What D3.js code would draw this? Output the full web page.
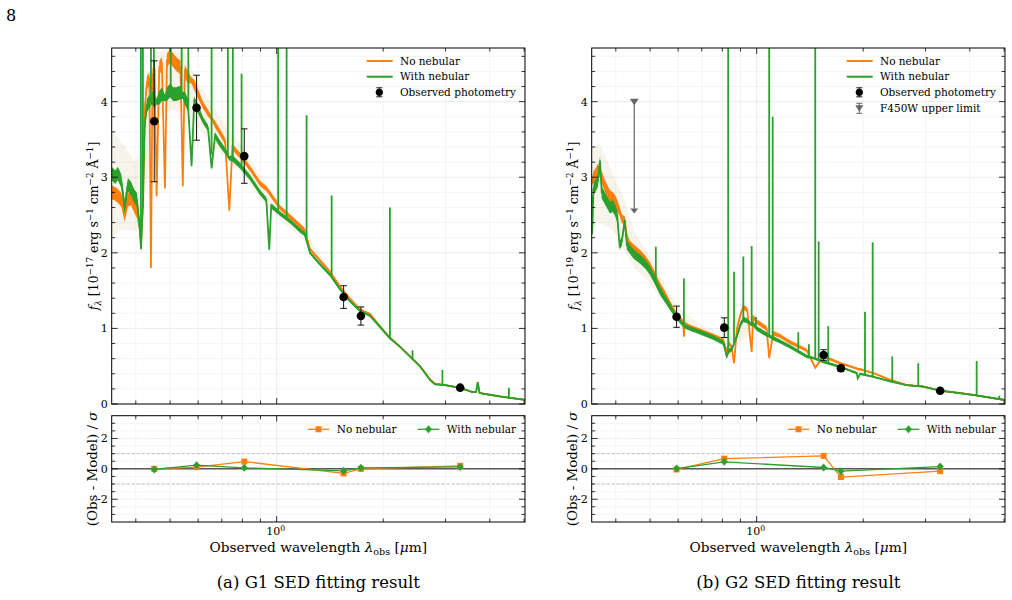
<!DOCTYPE html>
<html>
<head>
<meta charset="utf-8">
<script src="https://cdn.jsdelivr.net/npm/d3@7"></script>
<style>
  body { margin: 0; background: #fff; }
  text { font-family: "DejaVu Serif", serif; fill: #000; }
</style>
</head>
<body>
<svg id="chart" width="1012" height="600"></svg>
<script>
// axis settings
var xDomain = [0.342, 5.03];
var fluxMax = 4.71;
var resDomain = [-3.5, 3.5];
var xMajorTicks = [1];
var xMinorTicks = [0.4, 0.5, 0.6, 0.7, 0.8, 0.9, 2, 3, 4, 5];
var fluxMajorTicks = [0, 1, 2, 3, 4];
var fluxMinorTicks = [0.2, 0.4, 0.6, 0.8, 1.2, 1.4, 1.6, 1.8, 2.2, 2.4, 2.6, 2.8,
  3.2, 3.4, 3.6, 3.8, 4.2, 4.4, 4.6];
var resMajorTicks = [-2, 0, 2];
var resMinorTicks = [-3, -2.5, -1.5, -1, -0.5, 0.5, 1, 1.5, 2.5, 3];

// G1 model spectra (um, 1e-17 units)
var g1Wave = [0.342, 0.350, 0.356, 0.364, 0.372, 0.380, 0.388, 0.396, 0.403, 0.409,
  0.414, 0.419, 0.424, 0.430, 0.437, 0.4415, 0.446, 0.452, 0.458, 0.466,
  0.474, 0.4835, 0.490, 0.500, 0.510, 0.520, 0.535, 0.543, 0.550, 0.562,
  0.575, 0.585, 0.600, 0.620, 0.640, 0.655, 0.670, 0.690, 0.715, 0.735,
  0.750, 0.790, 0.840, 0.897, 0.935, 0.953, 0.965, 1.022, 1.090, 1.163,
  1.200, 1.242, 1.325, 1.414, 1.510, 1.611, 1.719, 1.835, 1.958, 2.089,
  2.23, 2.38, 2.54, 2.71, 2.80, 2.99, 3.295, 3.56, 3.66, 3.70,
  3.74, 3.80, 4.27, 5.03];
var g1NoNeb = [2.80, 2.78, 2.75, 2.70, 2.50, 2.70, 2.72, 2.62, 2.55, 2.40,
  2.15, 2.60, 3.90, 4.25, 4.30, 1.80, 4.35, 4.40, 2.75, 4.45,
  4.50, 2.85, 4.55, 4.60, 4.55, 4.50, 4.45, 2.88, 4.40, 4.32,
  4.28, 4.22, 4.10, 3.95, 3.85, 3.78, 3.70, 3.60, 3.48, 2.56,
  3.40, 3.28, 3.12, 2.92, 2.85, 2.80, 2.76, 2.60, 2.48, 2.36,
  2.30, 2.05, 1.90, 1.75, 1.55, 1.39, 1.25, 1.19, 1.03, 0.88,
  0.76, 0.63, 0.50, 0.33, 0.27, 0.25, 0.215, 0.16, 0.16, 0.29,
  0.15, 0.14, 0.10, 0.055];
var g1Neb = [3.05, 3.00, 3.05, 2.95, 2.60, 2.90, 2.85, 2.75, 2.70, 2.40,
  2.05, 2.70, 3.70, 3.95, 4.00, 4.00, 4.05, 4.00, 4.00, 4.05,
  4.10, 4.05, 4.10, 4.15, 4.10, 4.10, 4.12, 4.08, 4.05, 3.95,
  3.15, 4.00, 3.90, 3.75, 3.65, 3.12, 3.55, 3.45, 3.35, 3.25,
  3.25, 3.15, 3.00, 2.80, 2.70, 2.04, 2.62, 2.52, 2.42, 2.30,
  2.25, 2.00, 1.85, 1.71, 1.52, 1.36, 1.23, 1.17, 1.02, 0.87,
  0.76, 0.63, 0.50, 0.32, 0.26, 0.25, 0.215, 0.16, 0.16, 0.29,
  0.15, 0.14, 0.10, 0.055];
var g1Noise = [0.09, 0.09, 0.09, 0.09, 0.09, 0.09, 0.09, 0.09, 0.09, 0.09,
  0.05, 0.08, 0.09, 0.09, 0.09, 0.04, 0.09, 0.09, 0.04, 0.09,
  0.09, 0.04, 0.09, 0.09, 0.09, 0.09, 0.09, 0.04, 0.09, 0.08,
  0.04, 0.07, 0.06, 0.045, 0.045, 0.03, 0.045, 0.045, 0.04, 0.03,
  0.04, 0.04, 0.035, 0.035, 0.035, 0.03, 0.035, 0.03, 0.03, 0.03,
  0.03, 0.02, 0.02, 0.02, 0.02, 0.015, 0.015, 0.015, 0.015, 0.01,
  0.01, 0.01, 0.01, 0.01, 0.01, 0.01, 0.01, 0.01, 0.01, 0.01,
  0.01, 0.01, 0.01, 0.01];
var g1BandWave = [0.342, 0.36, 0.38, 0.40, 0.42, 0.45, 0.50, 0.55, 0.60, 0.70,
  0.80, 0.90, 1.0, 1.2, 1.5, 2.0, 2.5, 3.0, 4.0, 5.03];
var g1BandLo = [2.2, 2.3, 2.3, 2.3, 2.5, 3.75, 3.9, 3.85, 3.65, 3.3,
  3.05, 2.7, 2.48, 2.15, 1.52, 0.93, 0.48, 0.24, 0.10, 0.05];
var g1BandHi = [3.6, 3.5, 3.35, 3.2, 3.5, 4.65, 4.7, 4.65, 4.25, 3.75,
  3.4, 3.02, 2.72, 2.28, 1.6, 0.97, 0.52, 0.27, 0.12, 0.06];
// nebular emission lines: wavelength, base, top
var g1LineWave = [0.4136, 0.419, 0.4415, 0.450, 0.502, 0.539, 0.563, 0.655, 0.728, 0.752,
  0.796, 1.010, 1.067, 1.215, 1.43, 2.089, 2.42, 2.94, 4.53];
var g1LineBase = [2.2, 2.6, 4.0, 4.0, 4.15, 4.1, 3.95, 3.3, 3.3, 3.25,
  3.15, 2.55, 2.45, 2.2, 1.70, 0.87, 0.58, 0.25, 0.08];
var g1LineTop = [5.2, 5.2, 5.2, 5.2, 5.2, 5.2, 5.2, 5.2, 5.2, 5.2,
  4.37, 5.2, 5.2, 3.82, 2.76, 2.60, 0.71, 0.45, 0.216];

// G1 photometry and residuals
var g1PhotWave = [0.451, 0.594, 0.810, 1.546, 1.730, 3.30];
var g1PhotFlux = [3.74, 3.92, 3.28, 1.415, 1.164, 0.216];
var g1PhotErr = [0.80, 0.43, 0.36, 0.15, 0.12, 0.02];
var g1ResNoNeb = [0.00, 0.11, 0.48, -0.30, 0.00, 0.20];
var g1ResNeb = [-0.04, 0.24, 0.07, -0.13, 0.07, 0.13];

// G2 model spectra (um, 1e-19 units)
var g2Wave = [0.342, 0.343, 0.346, 0.352, 0.356, 0.361, 0.365, 0.373, 0.380, 0.385,
  0.392, 0.397, 0.404, 0.410, 0.416, 0.424, 0.430, 0.438, 0.450, 0.468,
  0.485, 0.499, 0.515, 0.533, 0.550, 0.569, 0.594, 0.620, 0.623, 0.626,
  0.648, 0.692, 0.754, 0.805, 0.823, 0.835, 0.850, 0.863, 0.880, 0.900,
  0.917, 0.940, 0.968, 0.978, 1.000, 1.067, 1.085, 1.114, 1.163, 1.242,
  1.384, 1.464, 1.542, 1.719, 1.917, 1.930, 1.960, 2.136, 2.38, 2.65,
  2.955, 3.295, 3.67, 4.09, 5.03];
var g2NoNeb = [2.95, 2.95, 3.00, 3.05, 3.10, 3.05, 3.00, 2.88, 2.80, 2.75,
  2.72, 2.70, 2.62, 2.55, 2.45, 2.43, 2.20, 2.10, 2.05, 1.98,
  1.90, 1.82, 1.70, 1.55, 1.45, 1.32, 1.18, 1.08, 0.89, 1.06,
  1.02, 0.97, 0.90, 0.84, 0.70, 0.80, 0.75, 0.54, 1.00, 1.18,
  1.28, 1.25, 0.69, 1.15, 1.09, 1.00, 0.61, 0.935, 0.90, 0.82,
  0.71, 0.48, 0.63, 0.54, 0.47, 0.46, 0.46, 0.41, 0.32, 0.25,
  0.23, 0.176, 0.15, 0.12, 0.053];
var g2Neb = [2.75, 2.25, 2.85, 2.90, 2.95, 3.22, 2.80, 2.72, 2.65, 2.60,
  2.62, 2.58, 2.48, 2.10, 2.15, 2.43, 2.10, 2.05, 1.98, 1.92,
  1.85, 1.77, 1.65, 1.50, 1.40, 1.29, 1.15, 1.05, 1.04, 1.03,
  1.00, 0.95, 0.88, 0.81, 0.63, 0.70, 0.72, 0.80, 0.90, 1.05,
  1.12, 1.10, 1.05, 1.06, 1.00, 0.92, 0.90, 0.87, 0.83, 0.76,
  0.63, 0.60, 0.56, 0.49, 0.41, 0.34, 0.40, 0.36, 0.30, 0.25,
  0.23, 0.176, 0.15, 0.12, 0.053];
var g2Noise = [0.08, 0.04, 0.08, 0.08, 0.08, 0.06, 0.08, 0.08, 0.08, 0.08,
  0.08, 0.08, 0.08, 0.06, 0.06, 0.05, 0.06, 0.06, 0.06, 0.06,
  0.06, 0.06, 0.06, 0.055, 0.05, 0.045, 0.03, 0.03, 0.02, 0.03,
  0.03, 0.03, 0.03, 0.03, 0.02, 0.03, 0.03, 0.02, 0.035, 0.035,
  0.035, 0.03, 0.02, 0.03, 0.03, 0.03, 0.02, 0.03, 0.025, 0.025,
  0.02, 0.015, 0.02, 0.015, 0.015, 0.012, 0.015, 0.01, 0.01, 0.01,
  0.01, 0.01, 0.01, 0.01, 0.01];
var g2BandWave = [0.342, 0.36, 0.38, 0.40, 0.42, 0.45, 0.50, 0.55, 0.60, 0.70,
  0.80, 0.90, 1.0, 1.2, 1.5, 2.0, 3.0, 5.03];
var g2BandLo = [2.3, 2.4, 2.35, 2.25, 2.05, 1.8, 1.6, 1.3, 1.07, 0.9,
  0.77, 0.82, 0.96, 0.77, 0.58, 0.38, 0.21, 0.05];
var g2BandHi = [3.4, 3.45, 3.2, 2.95, 2.75, 2.3, 1.95, 1.58, 1.28, 1.04,
  0.91, 1.18, 1.13, 0.91, 0.67, 0.45, 0.24, 0.06];
var g2LineWave = [0.519, 0.623, 0.831, 0.863, 0.917, 0.968, 0.995, 1.085, 1.110, 1.311,
  1.405, 1.464, 1.497, 1.593, 2.023, 2.127, 2.416, 2.861, 4.183, 4.845];
var g2LineBase = [1.66, 1.04, 0.68, 0.78, 1.12, 1.05, 1.0, 0.90, 0.88, 0.72,
  0.64, 0.60, 0.58, 0.55, 0.38, 0.36, 0.30, 0.24, 0.11, 0.06];
var g2LineTop = [2.08, 1.66, 5.2, 1.75, 1.95, 2.09, 1.15, 5.2, 3.8, 0.95,
  0.79, 5.2, 2.15, 1.03, 1.22, 2.14, 0.63, 0.54, 0.57, 0.11];

// G2 photometry, F450W limit and residuals
var g2PhotWave = [0.594, 0.810, 1.546, 1.730, 3.30];
var g2PhotFlux = [1.155, 1.01, 0.648, 0.472, 0.176];
var g2PhotErr = [0.14, 0.13, 0.07, 0.04, 0.015];
var g2LimitWave = 0.451;
var g2LimitFrom = 4.0;
var g2LimitTo = 2.52;
var g2ResNoNeb = [-0.04, 0.67, 0.85, -0.54, -0.15];
var g2ResNeb = [0.02, 0.46, 0.09, -0.15, 0.15];

var orange = "#ff7f0e", green = "#2ca02c";
var panelW = 413.3;
var topTop = 48, topBottom = 404;
var resTop = 415.7, resBottom = 522;

var svg = d3.select("#chart");

svg.append("text").attr("x", 6).attr("y", 21)
   .style("font-size", "16px").text("8");

// writes text with sub/superscripts as tspans
function richText(sel, parts, size) {
    var shift = 0;
    parts.forEach(function(p) {
        var t = sel.append("tspan").text(p[0]);
        var target = 0;
        if (p[1] == "sup") target = -0.4 * size;
        if (p[1] == "sub") target = 0.25 * size;
        t.attr("dy", target - shift);
        shift = target;
        if (p[1] == "sup" || p[1] == "sub") t.style("font-size", (size * 0.7) + "px");
        if (p[2]) t.style("font-style", "italic");
    });
}

function drawPanel(p) {
    var x = d3.scaleLog().domain(xDomain).range([p.left, p.left + panelW]);
    var y = d3.scaleLinear().domain([0, fluxMax]).range([topBottom, topTop]);
    var yr = d3.scaleLinear().domain(resDomain).range([resBottom, resTop]);
    var x0 = p.left, x1 = p.left + panelW;

    svg.append("defs").append("clipPath").attr("id", "clip" + p.id)
       .append("rect").attr("x", x0).attr("y", topTop)
       .attr("width", panelW).attr("height", topBottom - topTop);

    // layers: grid below, spectra, then marks and axes on top
    var gg = svg.append("g");
    var cg = svg.append("g").attr("clip-path", "url(#clip" + p.id + ")");
    var g = svg.append("g");

    // grid
    [[topTop, topBottom], [resTop, resBottom]].forEach(function(r) {
        gg.selectAll(null).data(xMinorTicks.concat(xMajorTicks)).enter().append("line")
         .attr("x1", d => x(d)).attr("x2", d => x(d))
         .attr("y1", r[0]).attr("y2", r[1])
         .style("stroke", d => d == 1 ? "#e6e6e6" : "#f1f1f1").style("stroke-width", 0.8);
    });
    gg.selectAll(null).data(fluxMinorTicks).enter().append("line")
     .attr("x1", x0).attr("x2", x1).attr("y1", d => y(d)).attr("y2", d => y(d))
     .style("stroke", "#f2f2f2").style("stroke-width", 0.8);
    gg.selectAll(null).data(fluxMajorTicks).enter().append("line")
     .attr("x1", x0).attr("x2", x1).attr("y1", d => y(d)).attr("y2", d => y(d))
     .style("stroke", "#e6e6e6").style("stroke-width", 0.8);
    gg.selectAll(null).data(resMinorTicks).enter().append("line")
     .attr("x1", x0).attr("x2", x1).attr("y1", d => yr(d)).attr("y2", d => yr(d))
     .style("stroke", "#f2f2f2").style("stroke-width", 0.8);
    gg.selectAll(null).data([-2, 2]).enter().append("line")
     .attr("x1", x0).attr("x2", x1).attr("y1", d => yr(d)).attr("y2", d => yr(d))
     .style("stroke", "#cfcfcf").style("stroke-width", 0.8).style("stroke-dasharray", "1,1.5");
    gg.selectAll(null).data([-1, 1]).enter().append("line")
     .attr("x1", x0).attr("x2", x1).attr("y1", d => yr(d)).attr("y2", d => yr(d))
     .style("stroke", "#b0b0b0").style("stroke-width", 0.8).style("stroke-dasharray", "3,2");
    gg.append("line").attr("x1", x0).attr("x2", x1).attr("y1", yr(0)).attr("y2", yr(0))
     .style("stroke", "#000").style("stroke-width", 1);

    // spectra
    var spec = p.wave.map(function(w, i) {
        return {w: w, o: p.noNeb[i], g: p.neb[i], n: p.noise[i]};
    });
    var band = p.bandWave.map(function(w, i) {
        return {w: w, lo: p.bandLo[i], hi: p.bandHi[i]};
    });

    var bandArea = d3.area().x(d => x(d.w)).y0(d => y(d.lo)).y1(d => y(d.hi));
    cg.append("path").datum(band).attr("d", bandArea)
      .style("fill", orange).style("opacity", 0.05);
    cg.append("path").datum(band).attr("d", bandArea)
      .style("fill", green).style("opacity", 0.04);

    [["o", orange], ["g", green]].forEach(function(s) {
        var k = s[0];
        cg.append("path").datum(spec)
          .attr("d", d3.area().x(d => x(d.w)).y0(d => y(d[k] - d.n)).y1(d => y(d[k] + d.n)))
          .style("fill", s[1]);
        cg.append("path").datum(spec)
          .attr("d", d3.line().x(d => x(d.w)).y(d => y(d[k])))
          .style("fill", "none").style("stroke", s[1]).style("stroke-width", 1.8);
    });

    cg.selectAll(null).data(p.lineWave).enter().append("line")
      .attr("x1", d => x(d)).attr("x2", d => x(d))
      .attr("y1", (d, i) => y(p.lineBase[i])).attr("y2", (d, i) => y(p.lineTop[i]))
      .style("stroke", green).style("stroke-width", 1.8);

    // upper limit
    if (p.limitWave) {
        var lx = x(p.limitWave), ly0 = y(p.limitFrom), ly1 = y(p.limitTo);
        g.append("line").attr("x1", lx).attr("x2", lx).attr("y1", ly0).attr("y2", ly1 - 4)
         .style("stroke", "#666").style("stroke-width", 1.2);
        g.append("path")
         .attr("d", "M" + (lx - 4) + "," + (ly1 - 5) + "L" + (lx + 4) + "," + (ly1 - 5) + "L" + lx + "," + ly1 + "Z")
         .style("fill", "#666");
        g.append("path")
         .attr("d", "M" + (lx - 4.5) + "," + (ly0 - 3) + "L" + (lx + 4.5) + "," + (ly0 - 3) + "L" + lx + "," + (ly0 + 3.5) + "Z")
         .style("fill", "#666");
    }

    // photometry
    var phot = p.photWave.map(function(w, i) {
        return {w: w, f: p.photFlux[i], e: p.photErr[i]};
    });
    var pg = g.selectAll(null).data(phot).enter().append("g");
    pg.append("line").attr("x1", d => x(d.w)).attr("x2", d => x(d.w))
      .attr("y1", d => y(d.f - d.e)).attr("y2", d => y(d.f + d.e))
      .style("stroke", "#111").style("stroke-width", 1);
    [-1, 1].forEach(function(sgn) {
        pg.append("line").attr("x1", d => x(d.w) - 3.3).attr("x2", d => x(d.w) + 3.3)
          .attr("y1", d => y(d.f + sgn * d.e)).attr("y2", d => y(d.f + sgn * d.e))
          .style("stroke", "#111").style("stroke-width", 1);
    });
    pg.append("circle").attr("cx", d => x(d.w)).attr("cy", d => y(d.f)).attr("r", 4.3)
      .style("fill", "#000");

    // residuals
    var rOrange = p.photWave.map((w, i) => [x(w), yr(p.resNoNeb[i])]);
    var rGreen = p.photWave.map((w, i) => [x(w), yr(p.resNeb[i])]);
    g.append("path").attr("d", d3.line()(rOrange))
     .style("fill", "none").style("stroke", orange).style("stroke-width", 1.3);
    g.selectAll(null).data(rOrange).enter().append("rect")
     .attr("x", d => d[0] - 3).attr("y", d => d[1] - 3).attr("width", 6).attr("height", 6)
     .style("fill", orange);
    g.append("path").attr("d", d3.line()(rGreen))
     .style("fill", "none").style("stroke", green).style("stroke-width", 1.3);
    g.selectAll(null).data(rGreen).enter().append("path")
     .attr("d", d => "M" + d[0] + "," + (d[1] - 4) + "L" + (d[0] + 3.5) + "," + d[1] +
        "L" + d[0] + "," + (d[1] + 4) + "L" + (d[0] - 3.5) + "," + d[1] + "Z")
     .style("fill", green);

    // frames and inward ticks
    [[topTop, topBottom, y, fluxMajorTicks, fluxMinorTicks],
     [resTop, resBottom, yr, resMajorTicks, resMinorTicks]].forEach(function(a) {
        g.append("rect").attr("x", x0).attr("y", a[0]).attr("width", panelW)
         .attr("height", a[1] - a[0]).style("fill", "none")
         .style("stroke", "#000").style("stroke-width", 1);
        var tk = [];
        xMajorTicks.forEach(v => tk.push([x(v), 6, "x"]));
        xMinorTicks.forEach(v => tk.push([x(v), 3.5, "x"]));
        a[3].forEach(v => tk.push([a[2](v), 6, "y"]));
        a[4].forEach(v => tk.push([a[2](v), 3.5, "y"]));
        tk.forEach(function(t) {
            if (t[2] == "x") {
                g.append("line").attr("x1", t[0]).attr("x2", t[0]).attr("y1", a[1]).attr("y2", a[1] - t[1])
                 .style("stroke", "#000").style("stroke-width", 0.8);
                g.append("line").attr("x1", t[0]).attr("x2", t[0]).attr("y1", a[0]).attr("y2", a[0] + t[1])
                 .style("stroke", "#000").style("stroke-width", 0.8);
            } else {
                g.append("line").attr("x1", x0).attr("x2", x0 + t[1]).attr("y1", t[0]).attr("y2", t[0])
                 .style("stroke", "#000").style("stroke-width", 0.8);
                g.append("line").attr("x1", x1).attr("x2", x1 - t[1]).attr("y1", t[0]).attr("y2", t[0])
                 .style("stroke", "#000").style("stroke-width", 0.8);
            }
        });
        g.selectAll(null).data(a[3]).enter().append("text")
         .attr("x", x0 - 4).attr("y", d => a[2](d)).attr("dy", "0.36em")
         .attr("text-anchor", "end").style("font-size", "11px")
         .text(d => String(d));
    });

    // x tick label 10^0
    var xl = g.append("text").attr("x", x(1) - 1).attr("y", 535)
              .attr("text-anchor", "middle").style("font-size", "11px");
    richText(xl, [["10", "n"], ["0", "sup"]], 11);

    // axis labels
    var xt = g.append("text").attr("x", (x0 + x1) / 2).attr("y", 552)
              .attr("text-anchor", "middle").style("font-size", "13.7px");
    richText(xt, [["Observed wavelength ", "n"], ["λ", "n", true], ["obs", "sub"],
                  [" [", "n"], ["μ", "n", true], ["m]", "n"]], 13.7);

    var yt = g.append("text").attr("transform", "translate(" + (x0 - 14) + ",226) rotate(-90)")
              .attr("text-anchor", "middle").style("font-size", "12.5px");
    richText(yt, [["f", "n", true], ["λ", "sub", true], [" [10", "n"], ["−" + p.exp, "sup"],
                  [" erg s", "n"], ["−1", "sup"], [" cm", "n"], ["−2", "sup"],
                  [" Å", "n"], ["−1", "sup"], ["]", "n"]], 12.5);

    var rt = g.append("text").attr("transform", "translate(" + (x0 - 15) + "," + ((resTop + resBottom) / 2) + ") rotate(-90)")
              .attr("text-anchor", "middle").style("font-size", "13.4px");
    richText(rt, [["(Obs - Model) / ", "n"], ["σ", "n", true]], 13.4);

    // caption
    g.append("text").attr("x", (x0 + x1) / 2).attr("y", 588)
     .attr("text-anchor", "middle").style("font-size", "16.5px").text(p.caption);

    // legend upper panel
    var lx0 = x0 + 255, ltx = x0 + 288.3;
    var rows = [61, 76.7, 92.3, 108.3];
    g.append("line").attr("x1", lx0).attr("x2", lx0 + 26).attr("y1", rows[0]).attr("y2", rows[0])
     .style("stroke", orange).style("stroke-width", 2);
    g.append("line").attr("x1", lx0).attr("x2", lx0 + 26).attr("y1", rows[1]).attr("y2", rows[1])
     .style("stroke", green).style("stroke-width", 2);
    var mx = lx0 + 12.6;
    g.append("line").attr("x1", mx).attr("x2", mx).attr("y1", rows[2] - 4.5).attr("y2", rows[2] + 4.5)
     .style("stroke", "#111");
    [-4.5, 4.5].forEach(function(o) {
        g.append("line").attr("x1", mx - 3).attr("x2", mx + 3).attr("y1", rows[2] + o).attr("y2", rows[2] + o)
         .style("stroke", "#111");
    });
    g.append("circle").attr("cx", mx).attr("cy", rows[2]).attr("r", 3.6).style("fill", "#000");
    var labels = ["No nebular", "With nebular", "Observed photometry"];
    if (p.limitWave) {
        labels.push("F450W upper limit");
        g.append("line").attr("x1", mx).attr("x2", mx).attr("y1", rows[3] - 5).attr("y2", rows[3] + 5)
         .style("stroke", "#666");
        [-5, 5].forEach(function(o) {
            g.append("line").attr("x1", mx - 3).attr("x2", mx + 3).attr("y1", rows[3] + o).attr("y2", rows[3] + o)
             .style("stroke", "#666");
        });
        g.append("path")
         .attr("d", "M" + (mx - 4) + "," + (rows[3] - 3) + "L" + (mx + 4) + "," + (rows[3] - 3) + "L" + mx + "," + (rows[3] + 3.5) + "Z")
         .style("fill", "#666");
    }
    g.selectAll(null).data(labels).enter().append("text")
     .attr("x", ltx).attr("y", (d, i) => rows[i]).attr("dy", "0.35em")
     .style("font-size", "10.5px").text(d => d);

    // legend residual panel
    var ry = 429.3;
    [[x0 + 196, orange, "No nebular", "sq"], [x0 + 306, green, "With nebular", "di"]].forEach(function(l) {
        g.append("line").attr("x1", l[0]).attr("x2", l[0] + 21.6).attr("y1", ry).attr("y2", ry)
         .style("stroke", l[1]).style("stroke-width", 1.3);
        var c = l[0] + 10.8;
        if (l[3] == "sq") {
            g.append("rect").attr("x", c - 3).attr("y", ry - 3).attr("width", 6).attr("height", 6)
             .style("fill", l[1]);
        } else {
            g.append("path").attr("d", "M" + c + "," + (ry - 4) + "L" + (c + 3.5) + "," + ry +
                "L" + c + "," + (ry + 4) + "L" + (c - 3.5) + "," + ry + "Z").style("fill", l[1]);
        }
        g.append("text").attr("x", l[0] + 29).attr("y", ry).attr("dy", "0.35em")
         .style("font-size", "10.5px").text(l[2]);
    });
}

drawPanel({id: 1, left: 111.7, exp: 17, caption: "(a) G1 SED fitting result",
    wave: g1Wave, noNeb: g1NoNeb, neb: g1Neb, noise: g1Noise,
    bandWave: g1BandWave, bandLo: g1BandLo, bandHi: g1BandHi,
    lineWave: g1LineWave, lineBase: g1LineBase, lineTop: g1LineTop,
    photWave: g1PhotWave, photFlux: g1PhotFlux, photErr: g1PhotErr,
    resNoNeb: g1ResNoNeb, resNeb: g1ResNeb, limitWave: null});

drawPanel({id: 2, left: 591.7, exp: 19, caption: "(b) G2 SED fitting result",
    wave: g2Wave, noNeb: g2NoNeb, neb: g2Neb, noise: g2Noise,
    bandWave: g2BandWave, bandLo: g2BandLo, bandHi: g2BandHi,
    lineWave: g2LineWave, lineBase: g2LineBase, lineTop: g2LineTop,
    photWave: g2PhotWave, photFlux: g2PhotFlux, photErr: g2PhotErr,
    resNoNeb: g2ResNoNeb, resNeb: g2ResNeb,
    limitWave: g2LimitWave, limitFrom: g2LimitFrom, limitTo: g2LimitTo});
</script>
</body>
</html>
